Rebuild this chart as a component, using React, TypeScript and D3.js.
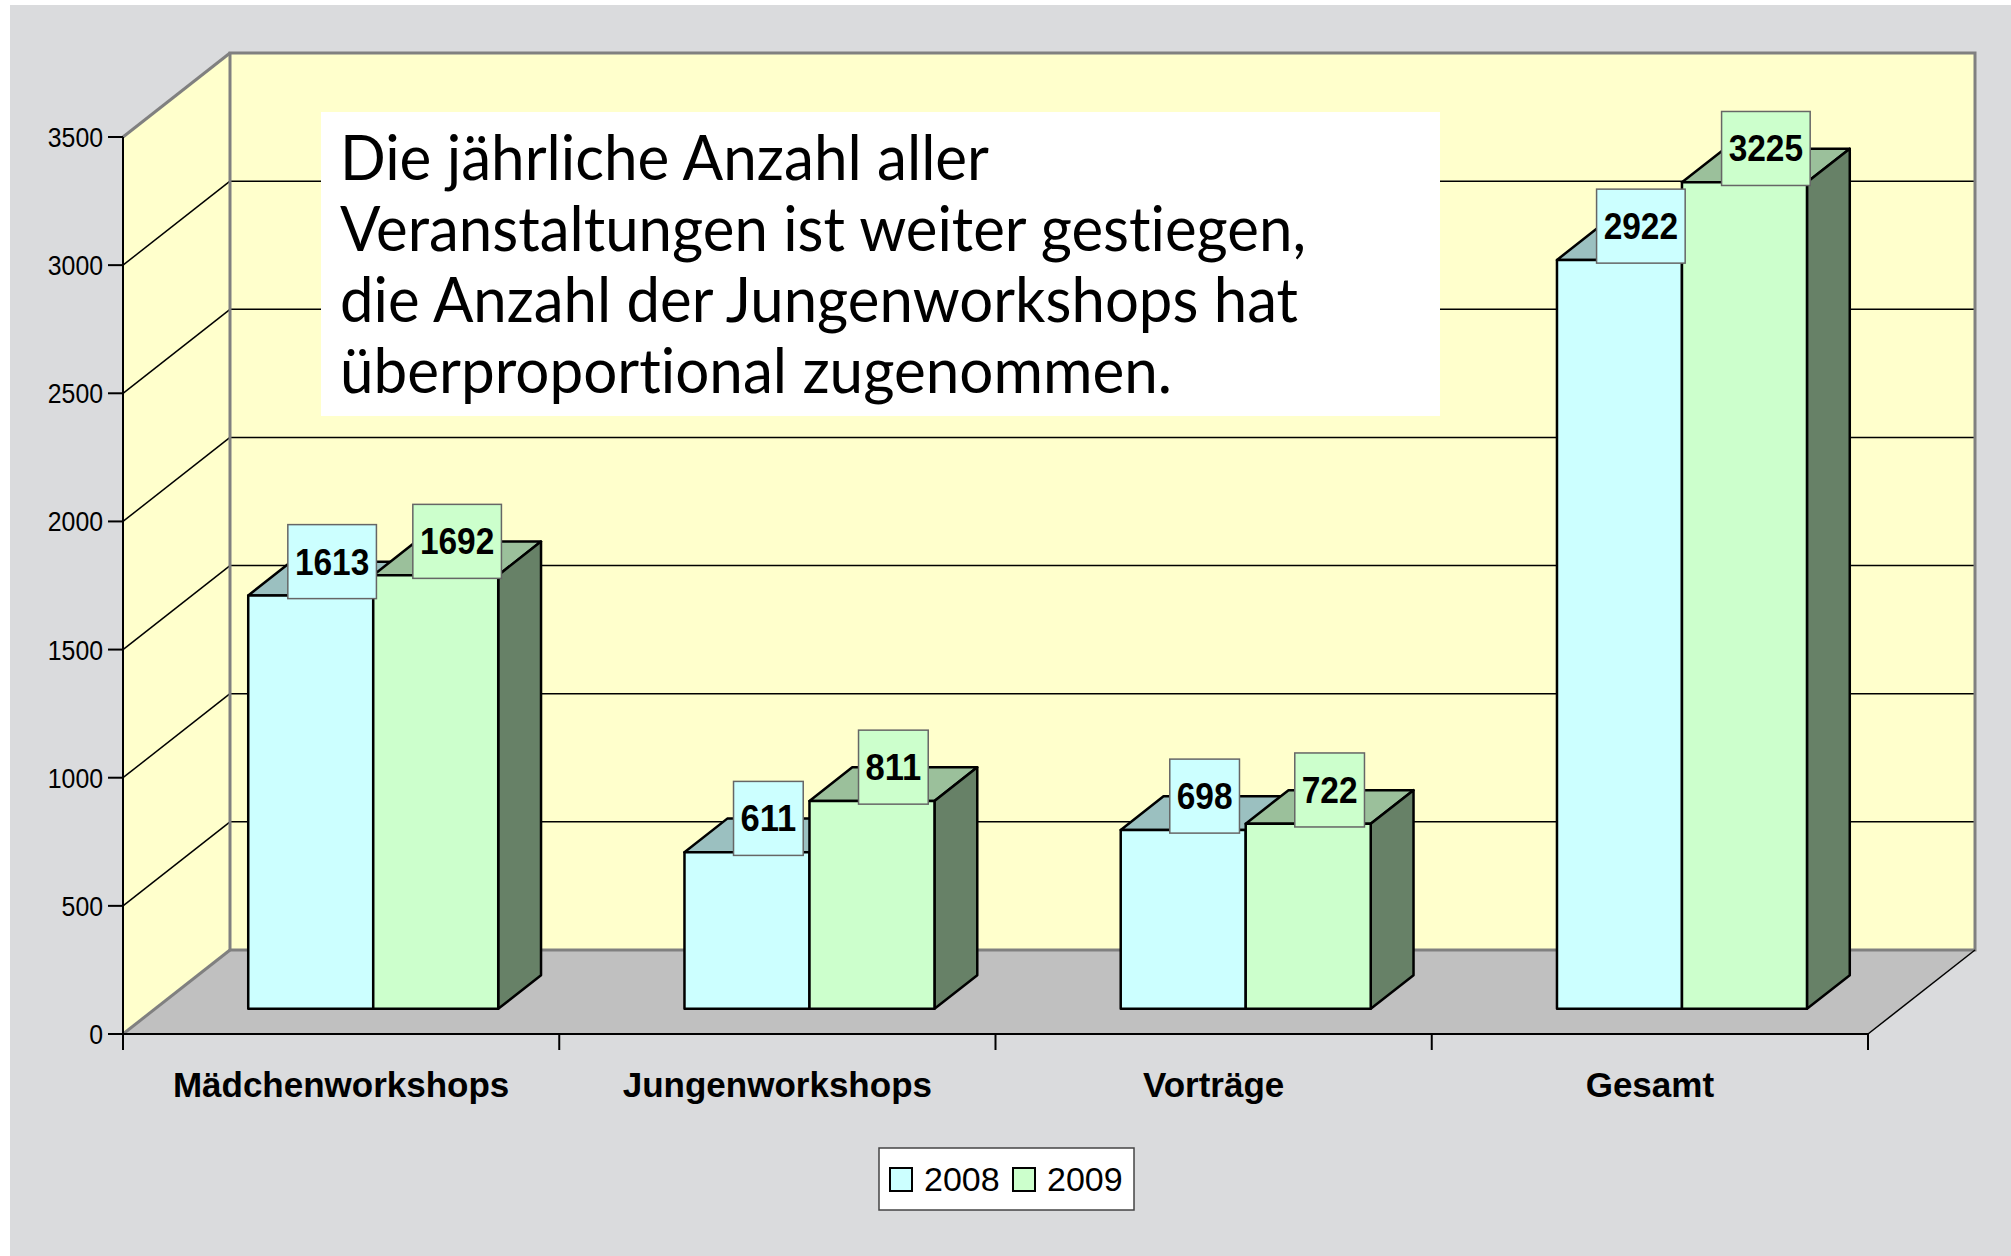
import React from 'react';
import * as d3 from 'd3';

const categories = ['Mädchenworkshops', 'Jungenworkshops', 'Vorträge', 'Gesamt'];
const years = ['2008', '2009'];
const values2008 = [1613, 611, 698, 2922];
const values2009 = [1692, 811, 722, 3225];
const yTicks = [0, 500, 1000, 1500, 2000, 2500, 3000, 3500];
const noteLines = [
  'Die jährliche Anzahl aller',
  'Veranstaltungen ist weiter gestiegen,',
  'die Anzahl der Jungenworkshops hat',
  'überproportional zugenommen.',
];

const width = 2011;
const height = 1256;
const marginLeft = 123;
const marginRight = 143;
const floorY = 1034;
const topY = 137;
const DX = 107;
const DY = -84;
const depthFront = 0.3;
const depthBack = 0.7;

const colors: Record<string, { front: string; top: string; side: string }> = {
  '2008': { front: '#CCFFFF', top: '#9BC0C0', side: '#668080' },
  '2009': { front: '#CCFFCC', top: '#9BC09B', side: '#678167' },
};

const noteWidths = [649, 966, 958, 832];
const font = "'Liberation Sans', Arial, sans-serif";

export default function App() {
  const x = d3.scaleBand<string>()
    .domain(categories)
    .range([marginLeft, width - marginRight])
    .padding(0);

  const xInner = d3.scaleBand<string>()
    .domain(years)
    .range([0, x.bandwidth()])
    .paddingInner(0)
    .paddingOuter(0.745);

  const y = d3.scaleLinear()
    .domain([0, 3500])
    .range([floorY, topY]);

  const x0 = marginLeft;
  const x1 = width - marginRight;
  const y0 = y(0);
  const yTop = y(3500);

  const series = [
    { year: '2008', values: values2008 },
    { year: '2009', values: values2009 },
  ];

  const pts = (arr: [number, number][]) => arr.map(p => p.join(',')).join(' ');

  const bars: React.ReactNode[] = [];
  const labels: React.ReactNode[] = [];
  categories.forEach((cat, i) => {
    series.forEach(s => {
      const v = s.values[i];
      const c = colors[s.year];
      const bx = (x(cat) as number) + (xInner(s.year) as number);
      const bw = xInner.bandwidth();
      const fl = bx + depthFront * DX;
      const fr = fl + bw;
      const ft = y(v) + depthFront * DY;
      const fb = y(0) + depthFront * DY;
      const ddx = (depthBack - depthFront) * DX;
      const ddy = (depthBack - depthFront) * DY;
      bars.push(
        <g key={`${cat}-${s.year}`} stroke="#000" strokeWidth={2.5} strokeLinejoin="round">
          <polygon points={pts([[fl, ft], [fr, ft], [fr + ddx, ft + ddy], [fl + ddx, ft + ddy]])} fill={c.top} />
          <polygon points={pts([[fr, ft], [fr + ddx, ft + ddy], [fr + ddx, fb + ddy], [fr, fb]])} fill={c.side} />
          <rect x={fl} y={ft} width={bw} height={fb - ft} fill={c.front} />
        </g>
      );
      const label = String(v);
      const tw = label.length * 18.6;
      const lw = label.length * 18.9 + 13;
      const lcx = bx + bw / 2 + 0.5 * DX;
      const lcy = y(v) + 0.5 * DY - 17;
      labels.push(
        <g key={`l-${cat}-${s.year}`}>
          <rect x={lcx - lw / 2} y={lcy - 37} width={lw} height={74} fill={c.front} stroke="#666" strokeWidth={1.5} />
          <text x={lcx} y={lcy + 13} textAnchor="middle" fontFamily={font}
            fontWeight="bold" fontSize={37} fill="#000" textLength={tw} lengthAdjust="spacingAndGlyphs">{label}</text>
        </g>
      );
    });
  });

  return (
    <svg width={width} height={height} style={{ position: 'absolute', left: 0, top: 0, background: '#fff' }}>
      <rect x={10} y={5} width={width - 10} height={height - 5} fill="#DADBDD" />

      {/* back wall */}
      <rect x={x0 + DX} y={yTop + DY} width={x1 - x0} height={y0 - yTop} fill="#FFFFCC" />
      {/* left wall */}
      <polygon points={pts([[x0, y0], [x0, yTop], [x0 + DX, yTop + DY], [x0 + DX, y0 + DY]])} fill="#FFFFCC" />
      {/* floor */}
      <polygon points={pts([[x0, y0], [x1, y0], [x1 + DX, y0 + DY], [x0 + DX, y0 + DY]])} fill="#C0C0C0" />

      {/* gridlines */}
      {yTicks.filter(t => t > 0 && t < 3500).map(t => (
        <g key={`g${t}`} stroke="#000" strokeWidth={1.5}>
          <line x1={x0} y1={y(t)} x2={x0 + DX} y2={y(t) + DY} />
          <line x1={x0 + DX} y1={y(t) + DY} x2={x1 + DX} y2={y(t) + DY} />
        </g>
      ))}

      {/* wall edges */}
      <g stroke="#808080" strokeWidth={3} fill="none">
        <rect x={x0 + DX} y={yTop + DY} width={x1 - x0} height={y0 - yTop} />
        <line x1={x0} y1={yTop} x2={x0 + DX} y2={yTop + DY} />
        <line x1={x0} y1={y0} x2={x0 + DX} y2={y0 + DY} />
      </g>
      <line x1={x1} y1={y0} x2={x1 + DX} y2={y0 + DY} stroke="#000" strokeWidth={1.5} />

      {/* axes */}
      <g stroke="#000" strokeWidth={2}>
        <line x1={x0} y1={yTop} x2={x0} y2={y0 + 16} />
        <line x1={x0} y1={y0} x2={x1} y2={y0} />
        {yTicks.map(t => (
          <line key={`yt${t}`} x1={x0 - 15} y1={y(t)} x2={x0} y2={y(t)} />
        ))}
        {categories.map(c => (
          <line key={`xt${c}`} x1={(x(c) as number) + x.bandwidth()} y1={y0} x2={(x(c) as number) + x.bandwidth()} y2={y0 + 16} />
        ))}
      </g>
      {yTicks.map(t => (
        <text key={`yl${t}`} x={x0 - 20} y={y(t) + 10} textAnchor="end"
          fontFamily={font} fontSize={27} fill="#000" textLength={String(t).length * 13.8} lengthAdjust="spacingAndGlyphs">{t}</text>
      ))}
      {categories.map(c => (
        <text key={`xl${c}`} x={(x(c) as number) + x.bandwidth() / 2} y={1097} textAnchor="middle"
          fontFamily={font} fontWeight="bold" fontSize={35} fill="#000">{c}</text>
      ))}

      {bars}

      {/* note box */}
      <rect x={321} y={112} width={1119} height={304} fill="#fff" />
      {noteLines.map((line, i) => (
        <text key={`n${i}`} x={340} y={180 + i * 71} fontFamily="Lato, 'Open Sans', sans-serif" fontSize={62}
          fill="#000" textLength={noteWidths[i]} lengthAdjust="spacingAndGlyphs"
          style={{ fontVariantLigatures: 'none', fontFeatureSettings: "'liga' 0, 'clig' 0, 'dlig' 0" }}>{line}</text>
      ))}

      {labels}

      {/* legend */}
      <rect x={879} y={1148} width={255} height={62} fill="#fff" stroke="#444" strokeWidth={1.5} />
      {years.map((yr, i) => (
        <g key={`lg${yr}`}>
          <rect x={890 + i * 123} y={1168} width={22} height={23} fill={colors[yr].front} stroke="#000" strokeWidth={2} />
          <text x={924 + i * 123} y={1191} fontFamily={font} fontSize={34} fill="#000">{yr}</text>
        </g>
      ))}
    </svg>
  );
}
